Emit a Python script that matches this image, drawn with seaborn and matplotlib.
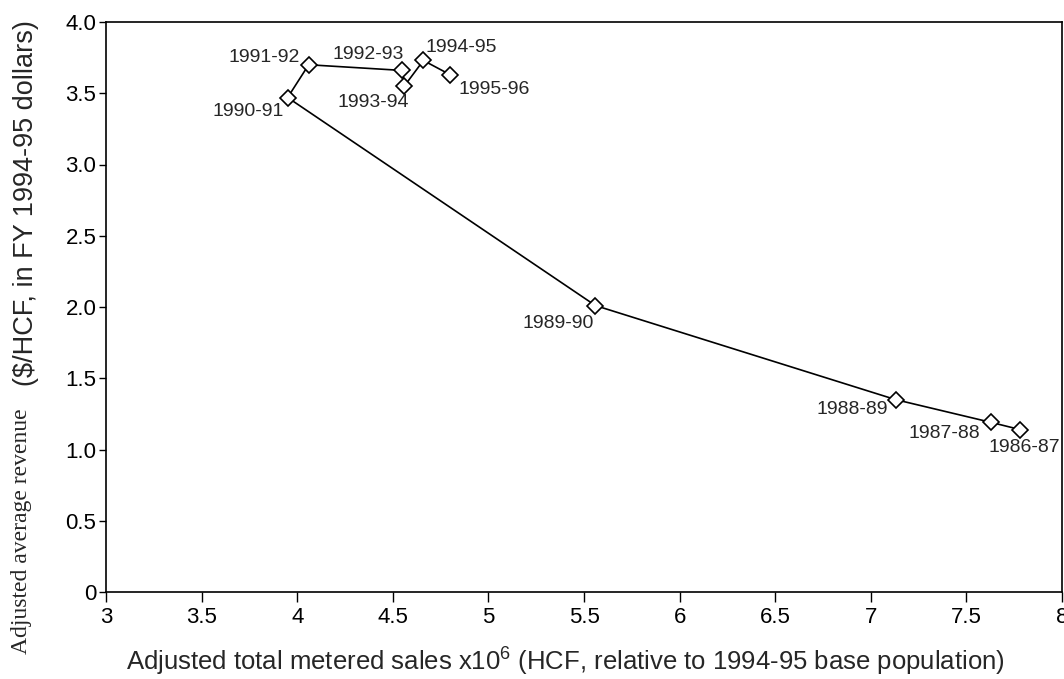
import pandas as pd
import matplotlib
matplotlib.use("Agg")
import matplotlib.pyplot as plt
import seaborn as sns

sns.set_style("ticks")
plt.rcParams['font.family'] = ['Liberation Sans', 'DejaVu Sans']
plt.rcParams['mathtext.fontset'] = 'custom'
plt.rcParams['mathtext.rm'] = 'Liberation Sans'
plt.rcParams['mathtext.it'] = 'Liberation Sans'

# fiscal years in chronological order (line follows this order)
years = ["1986-87", "1987-88", "1988-89", "1989-90", "1990-91",
         "1991-92", "1992-93", "1993-94", "1994-95", "1995-96"]
sales = [7.78, 7.63, 7.13, 5.56, 3.95, 4.06, 4.55, 4.56, 4.66, 4.80]
revenue = [1.14, 1.19, 1.35, 2.01, 3.47, 3.70, 3.66, 3.55, 3.73, 3.63]

x_ticks = [3, 3.5, 4, 4.5, 5, 5.5, 6, 6.5, 7, 7.5, 8]
x_ticklabels = ["3", "3.5", "4", "4.5", "5", "5.5", "6", "6.5", "7", "7.5", "8"]
y_ticks = [0, 0.5, 1.0, 1.5, 2.0, 2.5, 3.0, 3.5, 4.0]
y_ticklabels = ["0", "0.5", "1.0", "1.5", "2.0", "2.5", "3.0", "3.5", "4.0"]

df = pd.DataFrame({"year": years, "sales": sales, "revenue": revenue})

# label placement: (dx, dy in pixels, ha)
label_pos = {
    "1986-87": (-31, -18, "left"),
    "1987-88": (-11, -11, "right"),
    "1988-89": (-8, -10, "right"),
    "1989-90": (-2, -18, "right"),
    "1990-91": (-4, -14, "right"),
    "1991-92": (-9, 7, "right"),
    "1992-93": (-34, 16, "center"),
    "1993-94": (-31, -16, "center"),
    "1994-95": (2, 13, "left"),
    "1995-96": (8, -15, "left"),
}

fig = plt.figure(figsize=(10.64, 6.79), dpi=100)
ax = fig.add_axes([106 / 1064, 1 - 592 / 679, 956 / 1064, 570 / 679])

sns.lineplot(data=df, x="sales", y="revenue", sort=False, ax=ax,
             color="black", linewidth=1.2, marker="D", markersize=8,
             markerfacecolor="white", markeredgecolor="black", markeredgewidth=1.2)

for _, row in df.iterrows():
    dx, dy, ha = label_pos[row["year"]]
    ax.annotate(row["year"], (row["sales"], row["revenue"]), xytext=(dx, dy),
                textcoords="offset pixels", ha=ha, va="center", fontsize=14)

ax.set_xlim(3, 8)
ax.set_ylim(0, 4.0)
ax.set_xticks(x_ticks)
ax.set_xticklabels(x_ticklabels)
ax.set_yticks(y_ticks)
ax.set_yticklabels(y_ticklabels)
ax.tick_params(axis="x", direction="out", length=7, width=1, pad=4,
               labelsize=16, colors="black")
ax.tick_params(axis="y", direction="out", length=5, width=1, pad=2,
               labelsize=16, colors="black")
ax.set_xlabel("")
ax.set_ylabel("")
for s in ax.spines.values():
    s.set_color("black")
    s.set_linewidth(1.2)

fig.text(565 / 1064, 1 - 662 / 679,
         "Adjusted total metered sales x10$^6$ (HCF, relative to 1994-95 base population)",
         ha="center", va="center", fontsize=18.5)
fig.text(22 / 1064, 1 - 531 / 679, "Adjusted average revenue",
         rotation=90, ha="center", va="center", fontsize=17, family="Liberation Serif")
fig.text(26 / 1064, 1 - 203 / 679, "($/HCF, in FY 1994-95 dollars)",
         rotation=90, ha="center", va="center", fontsize=19.5)

fig.savefig("out.png", dpi=100, facecolor="white")
